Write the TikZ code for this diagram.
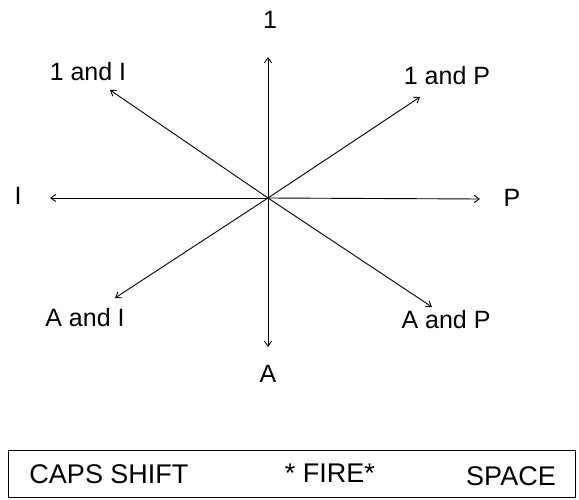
\documentclass[tikz,border=0pt]{standalone}
\usepackage{fontspec}
\setmainfont{Liberation Sans}
\usetikzlibrary{arrows.meta}

\begin{document}
\begin{tikzpicture}[
    x=1pt, y=1pt,
    lbl/.style={
      inner sep=0pt,
      font=\fontsize{25}{29}\selectfont
    },
    keylbl/.style={
      inner sep=0pt,
      font=\fontsize{27}{32}\selectfont
    },
    dir/.style={-{Straight Barb[length=5pt,width=7pt]}, line width=0.9pt}
  ]
    \useasboundingbox (0,0) rectangle (579,499);

    \coordinate (centre) at (268,301);

    % arrow ends
    \coordinate (up-end) at (268,442);
    \coordinate (upleft-end) at (110,409);
    \coordinate (upright-end) at (420,402);
    \coordinate (left-end) at (50,301);
    \coordinate (right-end) at (480,300);
    \coordinate (downleft-end) at (115,201);
    \coordinate (down-end) at (268,152);
    \coordinate (downright-end) at (432,192);

    \node[lbl] (up) at (270,479) {1};
    \node[lbl] (upleft) at (88,427) {1 and I};
    \node[lbl] (upright) at (447,423) {1 and P};
    \node[lbl] (left) at (18,303) {I};
    \node[lbl] (right) at (512,301) {P};
    \node[lbl] (downleft) at (85,181) {A and I};
    \node[lbl] (downright) at (446,179) {A and P};
    \node[lbl] (down) at (268,125) {A};

    \foreach \d in {up,upleft,upright,left,right,downleft,down,downright}
      \draw[dir] (centre) -- (\d-end);

    % key strip
    \node[draw, line width=0.9pt, inner sep=0pt, minimum width=567pt,
      minimum height=47pt] (keys) at (291.5,25.5) {};
    \node[keylbl] (caps) at (109,25) {CAPS SHIFT};
    \node[keylbl] (fire) at (330,26) {* FIRE*};
    \node[keylbl] (space) at (511,23) {SPACE};
  \end{tikzpicture}
\end{document}
